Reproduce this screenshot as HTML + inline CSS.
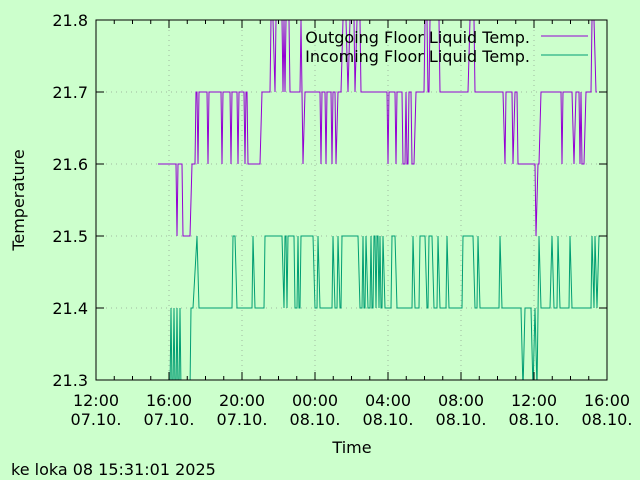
<!DOCTYPE html>
<html><head><meta charset="utf-8"><style>
body{margin:0;background:#ccffcc;}
svg{display:block;font-family:"DejaVu Sans","Liberation Sans",sans-serif;}
</style></head><body>
<svg id="s" width="640" height="480" viewBox="0 0 640 480" xmlns="http://www.w3.org/2000/svg">
<rect width="640" height="480" fill="#ccffcc"/>
<g stroke="#a0b8a0" stroke-width="1" stroke-dasharray="1,4">
<line x1="96" y1="92" x2="607" y2="92"/><line x1="96" y1="164" x2="607" y2="164"/>
<line x1="96" y1="236" x2="607" y2="236"/><line x1="96" y1="308" x2="607" y2="308"/>
<line x1="169" y1="20" x2="169" y2="380"/><line x1="242" y1="20" x2="242" y2="380"/>
<line x1="315" y1="20" x2="315" y2="380"/><line x1="388" y1="20" x2="388" y2="380"/>
<line x1="461" y1="20" x2="461" y2="380"/><line x1="534" y1="20" x2="534" y2="380"/>
</g>
<clipPath id="c"><rect x="96" y="20" width="511" height="360"/></clipPath>
<g clip-path="url(#c)" fill="none" stroke-width="1">
<polyline id="p" stroke="#9400d3"/>
<polyline id="g" stroke="#009e73"/>
</g>
<rect x="96" y="20" width="511" height="360" fill="none" stroke="#000"/>
<g id="ticks" stroke="#000"></g>
<g font-size="16" fill="#000">
<text x="88" y="26" text-anchor="end">21.8</text>
<text x="88" y="98" text-anchor="end">21.7</text>
<text x="88" y="170" text-anchor="end">21.6</text>
<text x="88" y="242" text-anchor="end">21.5</text>
<text x="88" y="314" text-anchor="end">21.4</text>
<text x="88" y="386" text-anchor="end">21.3</text>
<g text-anchor="middle">
<text x="96" y="406">12:00</text><text x="96" y="425">07.10.</text>
<text x="169" y="406">16:00</text><text x="169" y="425">07.10.</text>
<text x="242" y="406">20:00</text><text x="242" y="425">07.10.</text>
<text x="315" y="406">00:00</text><text x="315" y="425">08.10.</text>
<text x="388" y="406">04:00</text><text x="388" y="425">08.10.</text>
<text x="461" y="406">08:00</text><text x="461" y="425">08.10.</text>
<text x="534" y="406">12:00</text><text x="534" y="425">08.10.</text>
<text x="607" y="406">16:00</text><text x="607" y="425">08.10.</text>
<text x="352" y="453">Time</text>
</g>
<text x="24" y="200" text-anchor="middle" transform="rotate(-90 24 200)">Temperature</text>
<text x="530" y="43" text-anchor="end">Outgoing Floor Liquid Temp.</text>
<text x="530" y="62" text-anchor="end">Incoming Floor Liquid Temp.</text>
<text x="11" y="475">ke loka 08 15:31:01 2025</text>
</g>
<line x1="541" y1="36" x2="588" y2="36" stroke="#9400d3"/>
<line x1="541" y1="55" x2="588" y2="55" stroke="#009e73"/>
</svg>
<script>
function build(runs){var pts=[];for(var i=0;i<runs.length;i++){var r=runs[i];pts.push(r[0]+","+r[2]);pts.push(r[1]+","+r[2]);}return pts.join(" ");}
var P=[[158,176,164],[177,177,236],[178,182,164],[183,190,236],[192,195,164],[196,197,92],[198,198,164],[199,207,92],[208,208,164],[209,221,92],[222,222,164],[223,230,92],[231,231,164],[232,237,92],[238,238,164],[239,244,92],[245,245,164],[246,247,92],[248,260,164],[262,270,92],[271,273,20],[275,275,92],[276,282,20],[283,283,92],[284,284,20],[285,285,92],[286,289,20],[290,300,92],[301,301,20],[303,303,164],[305,320,92],[321,321,164],[322,325,92],[326,326,164],[327,331,92],[332,332,164],[333,335,92],[336,336,164],[338,341,92],[343,346,20],[348,348,92],[350,354,20],[355,355,92],[357,360,20],[361,387,92],[388,388,164],[389,395,92],[396,396,164],[397,402,92],[403,405,164],[406,406,92],[407,408,164],[409,411,92],[412,414,164],[416,424,92],[425,427,20],[428,429,92],[430,432,20],[433,439,20],[440,468,92],[470,474,20],[475,503,92],[505,505,164],[506,512,92],[513,513,164],[515,517,92],[518,535,164],[536,536,236],[538,539,164],[541,561,92],[562,562,164],[563,572,92],[574,574,164],[576,579,92],[580,580,164],[581,581,92],[582,584,164],[586,591,92],[592,594,20],[596,597,92]];
var G=[[168,170,390],[171,171,308],[172,173,390],[174,174,308],[175,176,390],[177,177,308],[178,179,390],[180,180,308],[181,190,390],[191,193,308],[197,197,236],[199,232,308],[233,235,236],[237,252,308],[253,253,236],[255,264,308],[265,282,236],[284,284,308],[285,286,236],[287,287,308],[288,294,236],[295,297,308],[298,298,236],[299,300,308],[301,313,236],[315,317,308],[318,318,236],[320,332,308],[333,333,236],[335,337,308],[338,338,236],[340,341,308],[342,358,236],[360,362,308],[363,363,236],[364,365,308],[366,366,236],[368,370,308],[371,371,236],[372,373,308],[374,375,236],[376,376,308],[377,378,236],[379,379,308],[380,380,236],[381,382,308],[383,383,236],[385,391,308],[392,395,236],[397,412,308],[413,413,236],[415,419,308],[420,425,236],[427,428,308],[429,432,236],[434,437,308],[438,438,236],[440,446,308],[447,447,236],[449,462,308],[463,473,236],[475,477,308],[478,478,236],[480,499,308],[500,500,236],[502,521,308],[523,523,390],[525,531,308],[533,533,390],[535,535,308],[537,537,390],[539,539,236],[541,550,308],[552,552,236],[554,557,308],[558,558,236],[560,569,308],[570,570,236],[572,591,308],[592,592,236],[594,594,308],[595,595,236],[597,597,308],[599,599,236],[601,605,236]];
document.getElementById('p').setAttribute('points',build(P));
document.getElementById('g').setAttribute('points',build(G));
var t="";
[20,92,164,236,308,380].forEach(function(y){t+='<line x1="96" y1="'+y+'" x2="104" y2="'+y+'"/><line x1="599" y1="'+y+'" x2="607" y2="'+y+'"/>';});
for(var i=0;i<=28;i++){var x=96+i*511/28;var L=(i%4==0)?8:4;t+='<line x1="'+x+'" y1="380" x2="'+x+'" y2="'+(380-L)+'"/><line x1="'+x+'" y1="20" x2="'+x+'" y2="'+(20+L)+'"/>';}
document.getElementById('ticks').innerHTML=t;
</script>
</body></html>
